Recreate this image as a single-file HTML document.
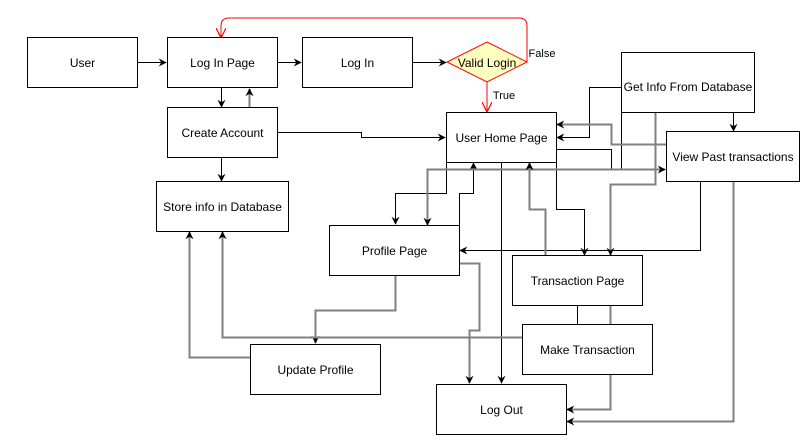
<!DOCTYPE html>
<html><head><meta charset="utf-8"><style>
html,body{margin:0;padding:0;background:#fff;}
svg{display:block;font-family:"Liberation Sans",Arial,sans-serif;}
</style></head><body>
<svg width="809" height="447" viewBox="0 0 809 447" xmlns="http://www.w3.org/2000/svg">
<defs>
<marker id="a" viewBox="0 0 10 10" refX="9" refY="5" markerWidth="8" markerHeight="8" orient="auto" markerUnits="userSpaceOnUse"><path d="M0,0 L10,5 L0,10 L3,5 z" fill="#000"/></marker>
<marker id="g" viewBox="0 0 10 10" refX="9" refY="5" markerWidth="8" markerHeight="8" orient="auto" markerUnits="userSpaceOnUse"><path d="M0,0 L10,5 L0,10 L3,5 z" fill="#000"/></marker>
<marker id="r" viewBox="0 0 10 10" refX="9" refY="5" markerWidth="10" markerHeight="10" orient="auto" markerUnits="userSpaceOnUse"><path d="M0,0 L10,5 L0,10" fill="none" stroke="#f00" stroke-width="1.2"/></marker>
</defs>
<g fill="none" stroke-width="1">
<g stroke="#000">
<path d="M137,62.5H166" marker-end="url(#a)"/>
<path d="M277,62.5H301" marker-end="url(#a)"/>
<path d="M412,62.5H446" marker-end="url(#a)"/>
<path d="M221.5,88V107" marker-end="url(#a)"/>
<path d="M221.5,158V181" marker-end="url(#a)"/>
<path d="M277,132.5H361.5V137.5H445" marker-end="url(#a)"/>
<path d="M621,87.5H589.5V137.5H557" marker-end="url(#a)"/>
<path d="M446.5,162V193.5H395.5V224" marker-end="url(#a)"/>
<path d="M459.5,225V193.5H473.5V163" marker-end="url(#a)"/>
<path d="M501.5,162V383" marker-end="url(#a)"/>
<path d="M556.5,162V209.5H584.5V255" marker-end="url(#a)"/>
<path d="M700.5,181V250.5H460" marker-end="url(#a)"/>
<path d="M733.5,112V131" marker-end="url(#a)"/>
<path d="M556,149.5H611.5V169.5"/>
<path d="M621.5,112V169.5"/>
</g>
<g stroke="#808080" stroke-width="2">
<path d="M249.5,108V89" marker-end="url(#g)"/>
<path d="M666,144.5H611.5V124.5H557" marker-end="url(#g)"/>
<path d="M427.5,224V169.5H665" marker-end="url(#g)"/>
<path d="M427.5,169.5V225" marker-end="url(#g)"/>
<path d="M545.5,256V209.5H529.5V163" marker-end="url(#g)"/>
<path d="M655.5,112V184.5H610.5V255" marker-end="url(#g)"/>
<path d="M459,263.5H479.5V330.5H469.5V383" marker-end="url(#g)"/>
<path d="M395.5,275V310.5H315.5V343" marker-end="url(#g)"/>
<path d="M250,357.5H189.5V232" marker-end="url(#g)"/>
<path d="M522,337.5H222.5V232" marker-end="url(#g)"/>
<path d="M610.5,305V324"/>
<path d="M610.5,374V409.5H567" marker-end="url(#g)"/>
<path d="M733.5,181V421.5H567" marker-end="url(#g)"/>
</g>
<path d="M577.5,305V324" stroke="#000"/>
<path d="M527,62V26Q527,18 519,18H229Q221,18 221,26V37" stroke="#f00" marker-end="url(#r)"/>
<path d="M487,82V111" stroke="#f00" marker-end="url(#r)"/>
<g stroke="#000" fill="#fff">
<rect x="27.5" y="37.5" width="110" height="50"/>
<rect x="167.5" y="37.5" width="110" height="50"/>
<rect x="302.5" y="37.5" width="110" height="50"/>
<rect x="167.5" y="107.5" width="110" height="50"/>
<rect x="156.5" y="181.5" width="132" height="50"/>
<rect x="446.5" y="112.5" width="110" height="50"/>
<rect x="621.5" y="52.5" width="133" height="60"/>
<rect x="666.5" y="131.5" width="133" height="50"/>
<rect x="329.5" y="225.5" width="130" height="50"/>
<rect x="512.5" y="255.5" width="130" height="50"/>
<rect x="522.5" y="324.5" width="130" height="50"/>
<rect x="250.5" y="344.5" width="130" height="50"/>
<rect x="436.5" y="384.5" width="130" height="50"/>
</g>
<path d="M487,42L527,62L487,82L447,62Z" fill="#ffffc0" stroke="#f00"/>
</g>
<g font-size="12" fill="#000" text-anchor="middle">
<text x="82.5" y="67">User</text>
<text x="222.5" y="67">Log In Page</text>
<text x="357.5" y="67">Log In</text>
<text x="487" y="67">Valid Login</text>
<text x="222.5" y="137">Create Account</text>
<text x="222.5" y="211">Store info in Database</text>
<text x="501.5" y="142">User Home Page</text>
<text x="688" y="91">Get Info From Database</text>
<text x="733" y="161">View Past transactions</text>
<text x="394.5" y="255">Profile Page</text>
<text x="577.5" y="285">Transaction Page</text>
<text x="587.5" y="354">Make Transaction</text>
<text x="315.5" y="374">Update Profile</text>
<text x="501.5" y="414">Log Out</text>
<text x="542" y="57" font-size="11">False</text>
<text x="504" y="99" font-size="11">True</text>
</g>
</svg>
</body></html>
